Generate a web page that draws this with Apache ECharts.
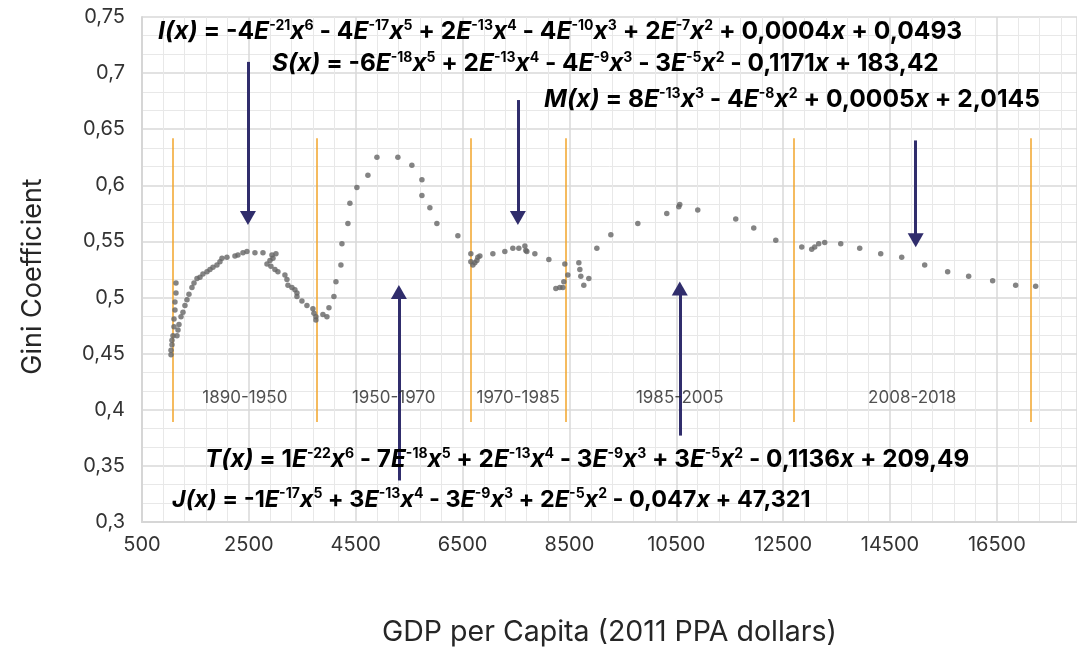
<!DOCTYPE html>
<html>
<head>
<meta charset="utf-8">
<script src="https://cdn.jsdelivr.net/npm/echarts@6/dist/echarts.min.js"></script>
<style>
  html, body { margin: 0; padding: 0; background: #ffffff; }
  #chart { width: 1077px; height: 651px; }
</style>
</head>
<body>
<div id="chart"></div>
<script>
// GDP per capita (2011 PPA dollars) and the Gini coefficient observed at each level
const gdpPerCapita = [
  1043, 1043, 1061, 1061, 1080, 1099, 1099, 1117, 1117, 1136, 1136,
  1155, 1174, 1192, 1230, 1267, 1304, 1342, 1379, 1435, 1473, 1529, 1585, 1641, 1716, 1772, 1828, 1903, 1959, 1997, 2090,
  2240, 2296, 2390, 2464, 2614, 2764, 2932, 3007, 2951, 2895, 2839, 2913, 2988, 3044,
  3175, 3213, 3232, 3306, 3362, 3400, 3400, 3493, 3587, 3699, 3718, 3755, 3755, 3886, 3961, 3999, 4092, 4130, 4223, 4242,
  4354, 4391, 4522, 4728, 4897, 5289, 5551, 5739, 5739, 5888, 6019, 6412,
  6655, 6655, 6693, 6730, 6768, 6786, 6824, 7067, 7291, 7441, 7553, 7666, 7684, 7703, 7853, 8115, 8246, 8320, 8377, 8395,
  8414, 8470, 8676, 8695, 8713, 8769, 8863, 9013, 9275, 9780, 10322, 10547, 10565, 10902, 11613, 11950, 12362, 12848, 13035, 13091,
  13166, 13278, 13578, 13933, 14326, 14719, 15149, 15579, 15972, 16421, 16852, 17226
];
const giniCoefficient = [
  0.449, 0.453, 0.458, 0.462, 0.466, 0.474, 0.481, 0.489, 0.496, 0.504, 0.513,
  0.466, 0.471, 0.476, 0.483, 0.487, 0.493, 0.498, 0.503, 0.509, 0.513, 0.517, 0.518, 0.521, 0.523, 0.525, 0.527, 0.529, 0.532, 0.535, 0.536,
  0.537, 0.538, 0.540, 0.541, 0.540, 0.540, 0.538, 0.539, 0.535, 0.533, 0.530, 0.528, 0.525, 0.523,
  0.520, 0.516, 0.511, 0.509, 0.507, 0.504, 0.501, 0.497, 0.493, 0.490, 0.486, 0.483, 0.480, 0.485, 0.483, 0.491, 0.501, 0.514, 0.529, 0.548,
  0.566, 0.584, 0.598, 0.609, 0.625, 0.625, 0.618, 0.605, 0.591, 0.580, 0.566, 0.555,
  0.539, 0.532, 0.529, 0.531, 0.533, 0.536, 0.537, 0.539, 0.541, 0.544, 0.544, 0.546, 0.542, 0.541, 0.539, 0.534, 0.508, 0.509, 0.509, 0.514,
  0.530, 0.520, 0.531, 0.525, 0.519, 0.511, 0.517, 0.544, 0.556, 0.566, 0.575, 0.581, 0.583, 0.578, 0.570, 0.562, 0.551, 0.545, 0.543, 0.545,
  0.548, 0.549, 0.548, 0.544, 0.539, 0.536, 0.529, 0.523, 0.519, 0.515, 0.511, 0.510
];

// Period boundaries (GDP per capita) and their names
const periodBounds = [1080, 3770, 6650, 8430, 12700, 17130];
const periodNames = ['1890-1950', '1950-1970', '1970-1985', '1985-2005', '2008-2018'];
const periodLineRange = [0.389, 0.642];
const periodLabelGini = 0.411;

// Arrows linking each fitted polynomial to its stretch of the curve
const arrowGdp = [2483, 7535, 14981, 5308, 10565];
const arrowFromGini = [0.710, 0.676, 0.640, 0.337, 0.377];
const arrowToGini = [0.571, 0.571, 0.551, 0.505, 0.508];

// Fitted polynomials: *...* is italic, ^{...} is a superscript
const formulas = [
  '*I(x)* = -4*E*^{-21}*x*^{6} - 4*E*^{-17}*x*^{5} + 2*E*^{-13}*x*^{4} - 4*E*^{-10}*x*^{3} + 2*E*^{-7}*x*^{2} + 0,0004*x* + 0,0493',
  '*S(x)* = -6*E*^{-18}*x*^{5} + 2*E*^{-13}*x*^{4} - 4*E*^{-9}*x*^{3} - 3*E*^{-5}*x*^{2} - 0,1171*x* + 183,42',
  '*M(x)* = 8*E*^{-13}*x*^{3} - 4*E*^{-8}*x*^{2} + 0,0005*x* + 2,0145',
  '*T(x)* = 1*E*^{-22}*x*^{6} - 7*E*^{-18}*x*^{5} + 2*E*^{-13}*x*^{4} - 3*E*^{-9}*x*^{3} + 3*E*^{-5}*x*^{2} - 0,1136*x* + 209,49',
  '*J(x)* = -1*E*^{-17}*x*^{5} + 3*E*^{-13}*x*^{4} - 3*E*^{-9}*x*^{3} + 2*E*^{-5}*x*^{2} - 0,047*x* + 47,321'
];
const formulaPlacement = [
  { left: 158, top: 19, size: 24.6 },
  { left: 272, top: 51, size: 24.4 },
  { left: 544, top: 87, size: 24.6 },
  { left: 205, top: 447, size: 24.3 },
  { left: 172, top: 487, size: 23.4 }
];

const FONT = 'Inter';
const INK = '#1a1a1a';
const ARROW = '#302d6c';
const ORANGE = '#f2a42a';

function toRich(src) {
  let out = '', buf = '', mode = 'b', i = 0;
  const flush = () => { if (buf) { out += '{' + mode + '|' + buf + '}'; buf = ''; } };
  while (i < src.length) {
    const c = src[i];
    if (c === '*') { flush(); mode = mode === 'i' ? 'b' : 'i'; i++; }
    else if (c === '^' && src[i + 1] === '{') {
      flush();
      const end = src.indexOf('}', i);
      out += '{s|' + src.slice(i + 2, end) + '}';
      i = end + 1;
    } else { buf += c; i++; }
  }
  flush();
  return out;
}

function richStyles(size) {
  const sup = Math.round(size * 0.58);
  return {
    b: { fontFamily: FONT, fontWeight: 'bold', fontSize: size, color: INK, lineHeight: 26 },
    i: { fontFamily: FONT, fontWeight: 'bold', fontStyle: 'italic', fontSize: size, color: INK, lineHeight: 26 },
    s: { fontFamily: FONT, fontWeight: 'bold', fontSize: sup, color: INK, lineHeight: 15, verticalAlign: 'top' }
  };
}

const points = gdpPerCapita.map((g, k) => [g, giniCoefficient[k]]);
const periodMids = periodNames.map((n, k) => [(periodBounds[k] + periodBounds[k + 1]) / 2, periodLabelGini, n]);

const chart = echarts.init(document.getElementById('chart'), null, { renderer: 'canvas' });

chart.setOption({
  backgroundColor: '#ffffff',
  animation: false,
  grid: { left: 142, right: 0, top: 17, bottom: 129, containLabel: false, outerBoundsMode: 'none' },
  xAxis: {
    type: 'value',
    min: 500,
    max: 18000,
    interval: 2000,
    name: 'GDP per Capita (2011 PPA dollars)',
    nameLocation: 'middle',
    nameGap: 96,
    nameTextStyle: { fontFamily: FONT, fontSize: 28.5, color: '#262626' },
    axisLine: { show: true, lineStyle: { color: '#d6d6d6', width: 2 } },
    axisTick: { show: false },
    axisLabel: {
      fontFamily: FONT, fontSize: 20, color: '#333333', margin: 13, showMaxLabel: false,
      formatter: v => String(v)
    },
    splitLine: { show: true, lineStyle: { color: '#d9d9d9', width: 1.5 } },
    minorTick: { show: false, splitNumber: 5 },
    minorSplitLine: { show: true, lineStyle: { color: '#e8e8e8', width: 1 } }
  },
  yAxis: {
    type: 'value',
    min: 0.3,
    max: 0.75,
    interval: 0.05,
    name: 'Gini Coefficient',
    nameLocation: 'middle',
    nameGap: 96,
    nameTextStyle: { fontFamily: FONT, fontSize: 27, color: '#262626', padding: [0, 14, 0, 0] },
    axisLine: { show: true, lineStyle: { color: '#d6d6d6', width: 2 } },
    axisTick: { show: false },
    axisLabel: {
      fontFamily: FONT, fontSize: 20, color: '#333333', margin: 17,
      formatter: v => String(Math.round(v * 100) / 100).replace('.', ',')
    },
    splitLine: { show: true, lineStyle: { color: '#d9d9d9', width: 1.5 } },
    minorTick: { show: false, splitNumber: 3 },
    minorSplitLine: { show: true, lineStyle: { color: '#e8e8e8', width: 1 } }
  },
  series: [
    {
      name: 'Gini',
      type: 'scatter',
      data: points,
      symbol: 'circle',
      symbolSize: 5.5,
      itemStyle: { color: '#656565' },
      z: 5,
      markLine: {
        silent: true,
        symbol: ['none', 'none'],
        label: { show: false },
        lineStyle: { color: ORANGE, width: 1.5, type: 'solid' },
        data: periodBounds.map(b => [{ coord: [b, periodLineRange[0]] }, { coord: [b, periodLineRange[1]] }])
      }
    },
    {
      name: 'Periods',
      type: 'scatter',
      data: periodMids,
      symbolSize: 0,
      silent: true,
      label: {
        show: true,
        position: 'inside',
        formatter: p => p.data[2],
        fontFamily: FONT,
        fontSize: 17,
        color: '#262626'
      },
      z: 6
    },
    {
      name: 'Arrows',
      type: 'line',
      data: [],
      markLine: {
        silent: true,
        symbol: ['none', 'triangle'],
        symbolSize: [16, 14],
        label: { show: false },
        lineStyle: { color: ARROW, width: 3, type: 'solid' },
        itemStyle: { color: ARROW },
        data: arrowGdp.map((g, k) => [{ coord: [g, arrowFromGini[k]] }, { coord: [g, arrowToGini[k]] }])
      },
      z: 7
    }
  ],
  graphic: formulas.map((f, k) => ({
    type: 'text',
    left: formulaPlacement[k].left,
    top: formulaPlacement[k].top,
    z: 100,
    style: { text: toRich(f), rich: richStyles(formulaPlacement[k].size) }
  }))
});
</script>
</body>
</html>
